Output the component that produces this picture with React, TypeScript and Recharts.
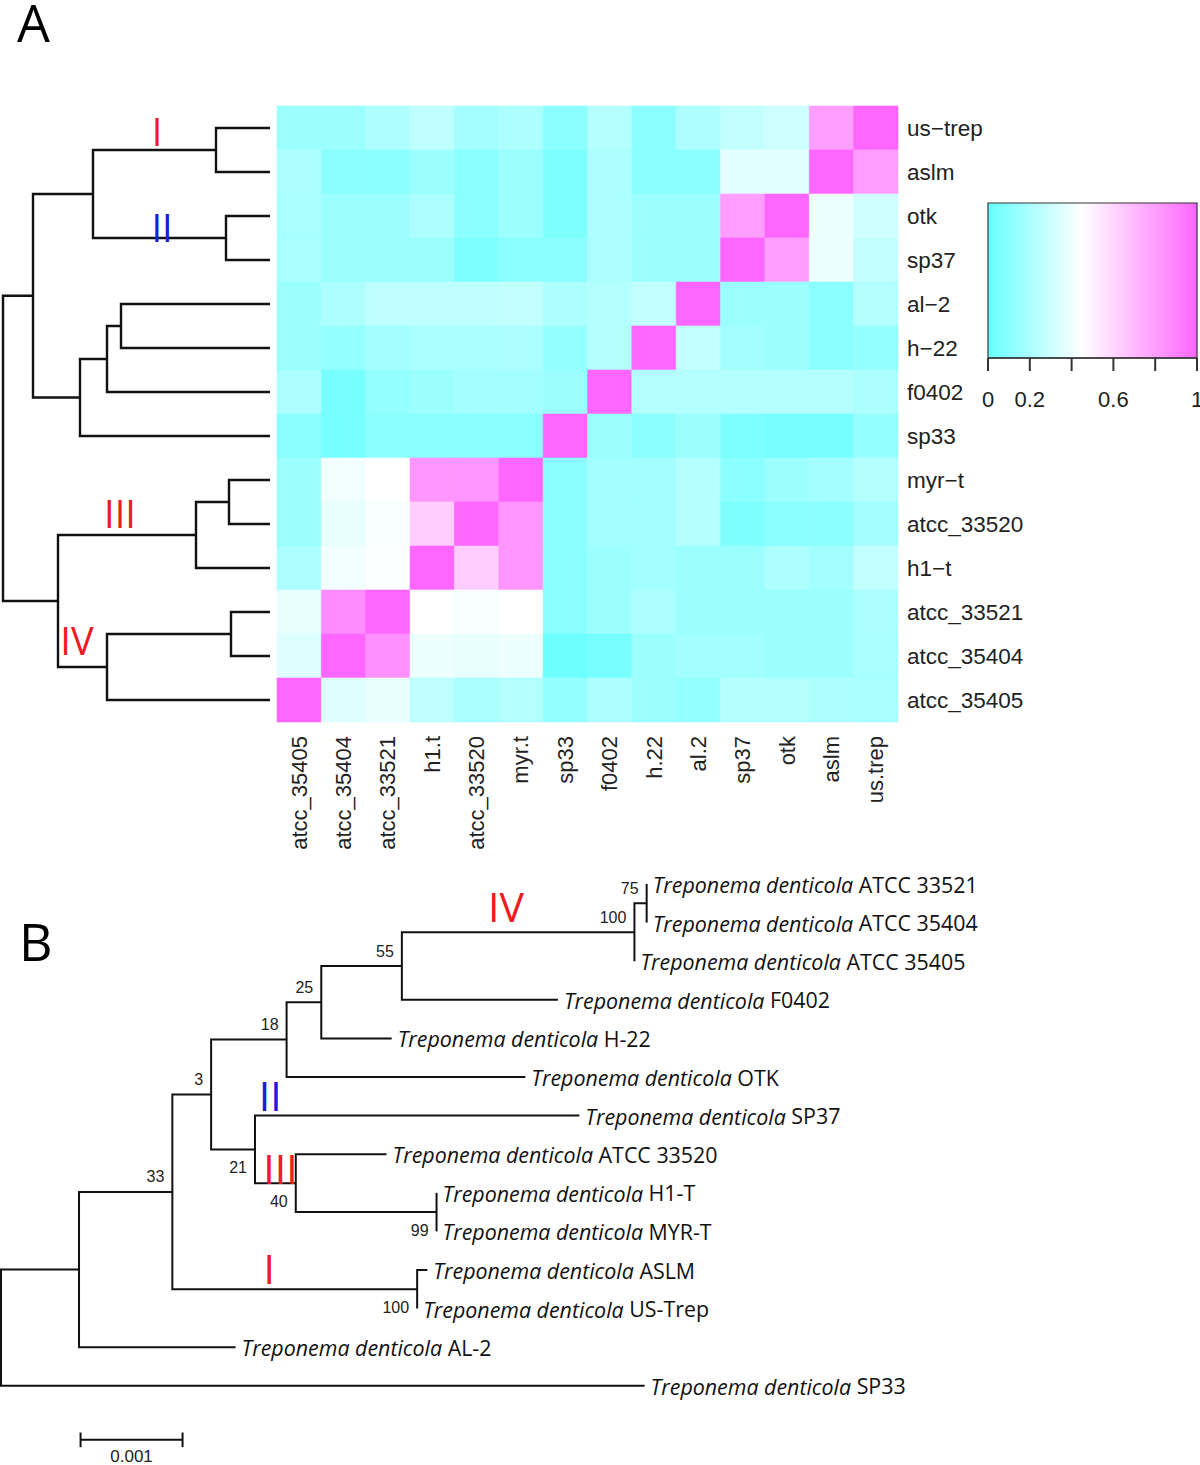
import React from 'react'
import { ComposedChart, Line, Scatter, XAxis, YAxis, ReferenceArea } from 'recharts'

// ---------- Panel A: heatmap ----------
const rowLabels = ['us−trep', 'aslm', 'otk', 'sp37', 'al−2', 'h−22', 'f0402', 'sp33', 'myr−t', 'atcc_33520', 'h1−t', 'atcc_33521', 'atcc_35404', 'atcc_35405']
const colLabels = ['atcc_35405', 'atcc_35404', 'atcc_33521', 'h1.t', 'atcc_33520', 'myr.t', 'sp33', 'f0402', 'h.22', 'al.2', 'sp37', 'otk', 'aslm', 'us.trep']

// rows follow rowLabels, columns follow colLabels
const similarity = [
  [0.16, 0.16, 0.21, 0.26, 0.18, 0.21, 0.11, 0.23, 0.11, 0.21, 0.27, 0.31, 0.80, 1.00],
  [0.21, 0.11, 0.11, 0.16, 0.11, 0.16, 0.07, 0.21, 0.11, 0.11, 0.37, 0.37, 1.00, 0.80],
  [0.20, 0.16, 0.16, 0.21, 0.11, 0.16, 0.07, 0.21, 0.16, 0.16, 0.80, 1.00, 0.40, 0.31],
  [0.20, 0.16, 0.16, 0.16, 0.07, 0.11, 0.11, 0.21, 0.16, 0.16, 1.00, 0.80, 0.40, 0.27],
  [0.16, 0.21, 0.26, 0.26, 0.26, 0.27, 0.21, 0.23, 0.27, 1.00, 0.16, 0.16, 0.11, 0.23],
  [0.16, 0.14, 0.18, 0.20, 0.20, 0.21, 0.14, 0.23, 1.00, 0.27, 0.18, 0.16, 0.11, 0.14],
  [0.21, 0.05, 0.14, 0.16, 0.18, 0.18, 0.16, 1.00, 0.23, 0.23, 0.23, 0.23, 0.23, 0.21],
  [0.11, 0.05, 0.11, 0.11, 0.11, 0.11, 1.00, 0.16, 0.11, 0.16, 0.07, 0.05, 0.05, 0.14],
  [0.16, 0.41, 0.45, 0.83, 0.83, 1.00, 0.11, 0.18, 0.18, 0.23, 0.11, 0.16, 0.18, 0.23],
  [0.16, 0.38, 0.43, 0.63, 1.00, 0.83, 0.11, 0.18, 0.18, 0.23, 0.07, 0.11, 0.11, 0.18],
  [0.21, 0.41, 0.44, 1.00, 0.63, 0.83, 0.11, 0.16, 0.18, 0.16, 0.16, 0.21, 0.18, 0.27],
  [0.38, 0.86, 1.00, 0.45, 0.43, 0.45, 0.11, 0.16, 0.21, 0.16, 0.16, 0.16, 0.16, 0.21],
  [0.35, 1.00, 0.85, 0.40, 0.38, 0.40, 0.02, 0.05, 0.16, 0.18, 0.18, 0.16, 0.16, 0.20],
  [1.00, 0.35, 0.38, 0.26, 0.20, 0.23, 0.14, 0.21, 0.16, 0.14, 0.23, 0.23, 0.21, 0.20],
]

const legendTicks = [0, 0.2, 0.4, 0.6, 0.8, 1]
const legendTickLabels = ['0', '0.2', '', '0.6', '', '1']

// row dendrogram, hclust style: negative = leaf -(row+1), positive = earlier merge number
const rowMerges: [number, number, number][] = [
  [-1, -2, 0.54], [-3, -4, 0.44], [1, 2, 1.77], [-5, -6, 1.49], [4, -7, 1.63], [5, -8, 1.9], [3, 6, 2.37],
  [-9, -10, 0.41], [8, -11, 0.74], [-12, -13, 0.39], [10, -14, 1.63], [9, 11, 2.12], [7, 12, 2.67],
]
const cladeLabelsA = [
  { label: 'I', color: '#ee1b24', x: 1.13, y: 0.06 },
  { label: 'II', color: '#1c1cd6', x: 1.08, y: 2.25 },
  { label: 'III', color: '#ee1b24', x: 1.5, y: 8.75 },
  { label: 'IV', color: '#ee1b24', x: 1.93, y: 11.64 },
]

// ---------- Panel B: phylogenetic tree ----------
const strains = ['ATCC 33521', 'ATCC 35404', 'ATCC 35405', 'F0402', 'H-22', 'OTK', 'SP37', 'ATCC 33520', 'H1-T', 'MYR-T', 'ASLM', 'US-Trep', 'AL-2', 'SP33']
const tipDepth = [0.00633, 0.00633, 0.00621, 0.00546, 0.00383, 0.00514, 0.00567, 0.00378, 0.00427, 0.00427, 0.00418, 0.00408, 0.0023, 0.00631]
const treeMerges: [number, number, number][] = [
  [-1, -2, 0.00633], [1, -3, 0.00621], [2, -4, 0.00393], [3, -5, 0.00314], [4, -6, 0.0028],
  [-9, -10, 0.00427], [-8, 6, 0.00289], [-7, 7, 0.00249], [5, 8, 0.00206], [-11, -12, 0.00408],
  [9, 10, 0.00168], [11, -13, 0.000765], [12, -14, 0],
]
const bootstrap = [75, 100, 55, 25, 18, 99, 40, 21, 3, 100, 33, null, null]
const bootstrapBelow = [false, false, false, false, false, true, true, true, false, true, false, false, false]
const cladeLabelsB = [
  { label: 'IV', color: '#ee1b24', x: 0.00495, y: 0.57 },
  { label: 'II', color: '#1c1cd6', x: 0.00264, y: 5.46 },
  { label: 'III', color: '#ee1b24', x: 0.00274, y: 7.36 },
  { label: 'I', color: '#ee1b24', x: 0.00263, y: 9.95 },
]
const scaleBar = { start: 0.00078, length: 0.001, row: 14.4, label: '0.001' }

// ---------- helpers ----------
const LOW = [102, 255, 255]
const MID = [255, 255, 255]
const HIGH = [255, 102, 255]
const MID_AT = 0.45
function heatColor(v: number) {
  const [a, b, t] = v <= MID_AT ? [LOW, MID, v / MID_AT] : [MID, HIGH, (v - MID_AT) / (1 - MID_AT)]
  const c = a.map((ch, i) => Math.round(ch + (b[i] - ch) * t))
  return `rgb(${c.join(',')})`
}

function layoutTree(merges: [number, number, number][], leafDepth: (i: number) => number) {
  const nodes: { x: number; y: number }[] = []
  const pos = (id: number) => (id < 0 ? { x: leafDepth(-id - 1), y: -id - 1 } : nodes[id - 1])
  const paths = merges.map(([a, b, h]) => {
    const pa = pos(a)
    const pb = pos(b)
    nodes.push({ x: h, y: (pa.y + pb.y) / 2 })
    return [{ x: pa.x, y: pa.y }, { x: h, y: pa.y }, { x: h, y: pb.y }, { x: pb.x, y: pb.y }]
  })
  return { nodes, paths }
}

const SANS = '"Liberation Sans", Arial, sans-serif'
const OPEN = '"Open Sans", sans-serif'
const nothing = () => <g />

const cladeShape = (size: number) => (p: any) => (
  <text x={p.cx} y={p.cy} textAnchor="middle" dominantBaseline="central" fontFamily={OPEN} fontSize={size} fill={p.payload.color}>
    {p.payload.label}
  </text>
)

// ---------- components ----------
function Heatmap() {
  const cells = similarity.flatMap((row, r) => row.map((v, c) => ({ x: c + 0.5, y: r + 0.5, v })))
  const ColTick = ({ x, y, payload }: any) => (
    <text x={x} y={y} transform={`rotate(-90 ${x} ${y})`} textAnchor="end" dominantBaseline="central" fontFamily={SANS} fontSize={22} fill="#222">
      {colLabels[Math.floor(payload.value)]}
    </text>
  )
  const RowTick = ({ x, y, payload }: any) => (
    <text x={x} y={y} textAnchor="start" dominantBaseline="central" fontFamily={SANS} fontSize={22.5} fill="#222">
      {rowLabels[Math.floor(payload.value)]}
    </text>
  )
  return (
    <ComposedChart width={930} height={770} margin={{ top: 6, right: 2, bottom: 2, left: 7 }}>
      <XAxis type="number" dataKey="x" domain={[0, colLabels.length]} ticks={colLabels.map((_, i) => i + 0.5)} interval={0}
        height={146} tick={<ColTick />} tickSize={0} tickMargin={14} axisLine={false} tickLine={false} />
      <YAxis type="number" dataKey="y" orientation="right" reversed domain={[0, rowLabels.length]} ticks={rowLabels.map((_, i) => i + 0.5)}
        interval={0} width={300} tick={<RowTick />} tickSize={0} tickMargin={9} axisLine={false} tickLine={false} />
      {similarity.map((row, r) =>
        row.map((v, c) => (
          <ReferenceArea key={`${r}-${c}`} x1={c} x2={c + 1} y1={r} y2={r + 1} fill={heatColor(v)} fillOpacity={1}
            stroke={heatColor(v)} strokeWidth={0.6} />
        ))
      )}
      <Scatter data={cells} shape={nothing} isAnimationActive={false} />
    </ComposedChart>
  )
}

function RowDendrogram() {
  const { paths } = layoutTree(rowMerges, () => 0)
  const rootHeight = rowMerges[rowMerges.length - 1][2]
  return (
    <ComposedChart width={280} height={630} margin={{ top: 6, right: 10, bottom: 8, left: 3 }}>
      <XAxis type="number" dataKey="x" domain={[0, rootHeight]} reversed hide />
      <YAxis type="number" dataKey="y" domain={[-0.5, rowLabels.length - 0.5]} reversed hide />
      {paths.map((d, i) => (
        <Line key={i} data={d} dataKey="y" type="linear" stroke="#111" strokeWidth={2.4} dot={false} activeDot={false} isAnimationActive={false} />
      ))}
      <Scatter data={cladeLabelsA} shape={cladeShape(38)} isAnimationActive={false} />
    </ComposedChart>
  )
}

function ColorKey() {
  const KeyTick = ({ x, y, payload, index }: any) => (
    <text x={x} y={y} textAnchor="middle" dominantBaseline="central" fontFamily={SANS} fontSize={22} fill="#222">
      {legendTickLabels[index] ?? payload.value}
    </text>
  )
  return (
    <ComposedChart width={240} height={230} margin={{ top: 13, right: 3, bottom: 2, left: 28 }}>
      <defs>
        <linearGradient id="heatScale" x1="0" y1="0" x2="1" y2="0">
          {[0, 0.15, 0.3, MID_AT, 0.6, 0.8, 1].map(v => (
            <stop key={v} offset={v} stopColor={heatColor(v)} />
          ))}
        </linearGradient>
      </defs>
      <XAxis type="number" dataKey="x" domain={[0, 1]} ticks={legendTicks} interval={0} height={60} tick={<KeyTick />}
        tickSize={13} tickMargin={28} axisLine={{ stroke: '#333', strokeWidth: 1.5 }} tickLine={{ stroke: '#333', strokeWidth: 2 }} />
      <YAxis type="number" dataKey="y" domain={[0, 1]} hide />
      <ReferenceArea x1={0} x2={1} y1={0} y2={1} fill="url(#heatScale)" fillOpacity={1} stroke="#333" strokeWidth={1.2} />
      <Scatter data={legendTicks.map(t => ({ x: t, y: t }))} shape={nothing} isAnimationActive={false} />
    </ComposedChart>
  )
}

function PhyloTree() {
  const { nodes, paths } = layoutTree(treeMerges, i => tipDepth[i])
  const tips = strains.map((s, i) => ({ x: tipDepth[i], y: i, strain: s }))
  const support = nodes
    .map((n, i) => ({ ...n, value: bootstrap[i], below: bootstrapBelow[i] }))
    .filter(n => n.value !== null)
  const bar = scaleBar
  const barEnd = bar.start + bar.length
  return (
    <ComposedChart width={1200} height={595} margin={{ top: 14, right: 179, bottom: 2, left: 1 }}>
      <XAxis type="number" dataKey="x" domain={[0, 0.01]} hide />
      <YAxis type="number" dataKey="y" domain={[0, 15]} reversed hide />
      {paths.map((d, i) => (
        <Line key={i} data={d} dataKey="y" type="linear" stroke="#111" strokeWidth={2} dot={false} activeDot={false} isAnimationActive={false} />
      ))}
      <Line data={[{ x: bar.start, y: bar.row }, { x: barEnd, y: bar.row }]} dataKey="y" stroke="#111" strokeWidth={2} dot={false} activeDot={false} isAnimationActive={false} />
      <Line data={[{ x: bar.start, y: bar.row - 0.19 }, { x: bar.start, y: bar.row + 0.19 }]} dataKey="y" stroke="#111" strokeWidth={2} dot={false} activeDot={false} isAnimationActive={false} />
      <Line data={[{ x: barEnd, y: bar.row - 0.19 }, { x: barEnd, y: bar.row + 0.19 }]} dataKey="y" stroke="#111" strokeWidth={2} dot={false} activeDot={false} isAnimationActive={false} />
      <Scatter data={[{ x: bar.start + bar.length / 2, y: bar.row + 0.44, label: bar.label }]} isAnimationActive={false}
        shape={(p: any) => (
          <text x={p.cx} y={p.cy} textAnchor="middle" dominantBaseline="central" fontFamily={SANS} fontSize={17} fill="#222">{p.payload.label}</text>
        )} />
      <Scatter data={tips} isAnimationActive={false}
        shape={(p: any) => (
          <text x={p.cx + 6} y={p.cy} dominantBaseline="central" fontFamily={OPEN} fontSize={21.4} fill="#111">
            <tspan fontStyle="italic">Treponema denticola</tspan> {p.payload.strain}
          </text>
        )} />
      <Scatter data={support} isAnimationActive={false}
        shape={(p: any) => (
          <text x={p.cx - 8} y={p.payload.below ? p.cy + 18 : p.cy - 15} textAnchor="end" dominantBaseline="central" fontFamily={SANS} fontSize={16} fill="#222">
            {p.payload.value}
          </text>
        )} />
      <Scatter data={cladeLabelsB} shape={cladeShape(41)} isAnimationActive={false} />
    </ComposedChart>
  )
}

const panelLetter: React.CSSProperties = { position: 'absolute', fontFamily: OPEN, fontSize: 52, lineHeight: '44px', color: '#000' }

export default function App() {
  return (
    <div style={{ position: 'absolute', left: 0, top: 0, width: 1200, height: 1465, background: '#fff', overflow: 'hidden' }}>
      <div style={{ ...panelLetter, left: 17, top: 0 }}>A</div>
      <div style={{ position: 'absolute', left: 270, top: 100 }}><Heatmap /></div>
      <div style={{ position: 'absolute', left: 0, top: 100 }}><RowDendrogram /></div>
      <div style={{ position: 'absolute', left: 960, top: 190 }}><ColorKey /></div>
      <div style={{ ...panelLetter, left: 19, top: 919 }}>B</div>
      <div style={{ position: 'absolute', left: 0, top: 870 }}><PhyloTree /></div>
    </div>
  )
}
